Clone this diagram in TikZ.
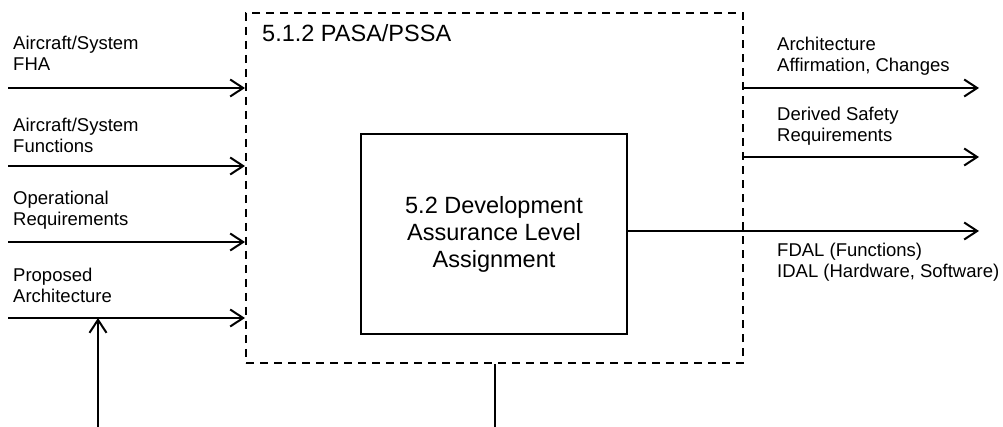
\documentclass[tikz,border=0pt]{standalone}
\usepackage{fontspec}
\setmainfont{Liberation Sans}
\usetikzlibrary{arrows.meta}
\begin{document}
\begin{tikzpicture}[x=1pt,y=-1pt,
  flow/.style={line width=2pt, -{Straight Barb[length=13pt,width=17pt]}},
  wire/.style={line width=2pt},
  lbl/.style={font=\fontsize{18.5}{21.5}\selectfont, align=left, anchor=base west, inner sep=0pt},
  process/.style={draw, line width=2pt, dash pattern=on 8pt off 6pt},
  activity/.style={draw, line width=2pt, align=center, font=\fontsize{23.5}{27}\selectfont},
]
\useasboundingbox (0,0) rectangle (1003,427);

% outer process and inner activity
\node[process, minimum width=497pt, minimum height=350pt, anchor=north west] (pasa) at (245,12) {};
\node[lbl, font=\fontsize{23.5}{27}\selectfont] (title) at (262,42) {5.1.2 PASA/PSSA};
\node[activity, minimum width=266pt, minimum height=200pt] (dal) at (494,234)
  {5.2 Development\\Assurance Level\\Assignment};

% inputs (label anchors sit on the baseline of the last line)
\coordinate (in1) at (8,88);
\coordinate (in2) at (8,166);
\coordinate (in3) at (8,242);
\coordinate (in4) at (8,318);
\draw[flow] (in1) -- (in1 -| pasa.west);
\draw[flow] (in2) -- (in2 -| pasa.west);
\draw[flow] (in3) -- (in3 -| pasa.west);
\draw[flow] (in4) -- (in4 -| pasa.west);
\node[lbl] (l1) at (13,71) {Aircraft/System\\FHA};
\node[lbl] (l2) at (13,153) {Aircraft/System\\Functions};
\node[lbl] (l3) at (13,226) {Operational\\Requirements};
\node[lbl] (l4) at (13,303) {Proposed\\Architecture};

% feedback into proposed architecture, and line out of the bottom
\coordinate (up) at (98,427);
\draw[flow] (up) -- (up |- in4);
\coordinate (down) at (493,427);
\draw[wire] (pasa.south) -- (pasa.south |- down);

% outputs
\coordinate (out1) at (979,88);
\coordinate (out2) at (979,157);
\coordinate (out3) at (979,231);
\draw[flow] (out1 -| pasa.east) -- (out1);
\draw[flow] (out2 -| pasa.east) -- (out2);
\draw[flow] (out3 -| dal.east) -- (out3);
\node[lbl] (r1) at (777,72) {Architecture\\Affirmation, Changes};
\node[lbl] (r2) at (777,142) {Derived Safety\\Requirements};
\node[lbl] (r3) at (777,278) {FDAL (Functions)\\IDAL (Hardware, Software)};
\end{tikzpicture}
\end{document}
